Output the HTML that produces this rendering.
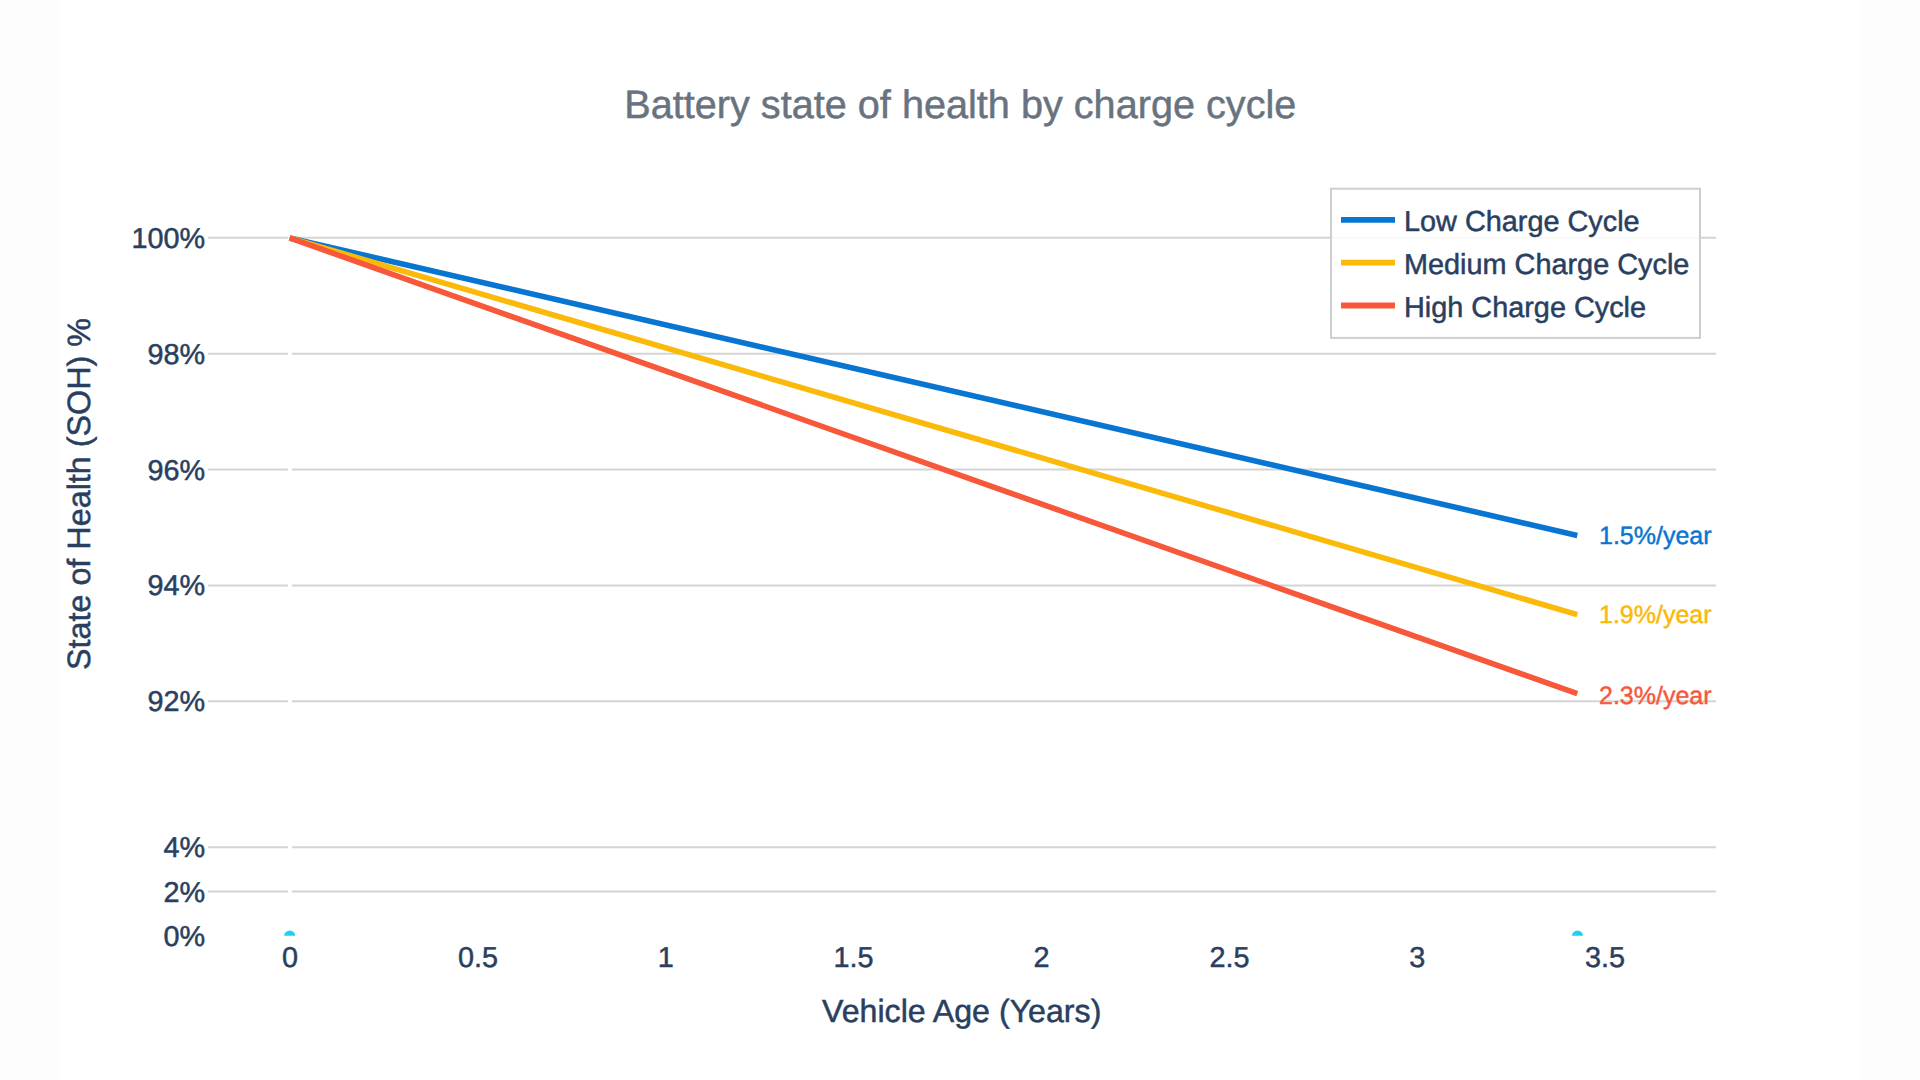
<!DOCTYPE html>
<html lang="en">
<head>
<meta charset="utf-8">
<title>Battery state of health by charge cycle</title>
<style>
html,body{margin:0;padding:0;width:1920px;height:1080px;overflow:hidden;background:#fdfdfd;}
#stage{position:absolute;left:60px;top:0;width:1800px;height:1080px;background:#ffffff;}
svg{position:absolute;left:0;top:0;width:1920px;height:1080px;display:block;}
text{font-family:"Liberation Sans",Arial,Helvetica,sans-serif;text-rendering:geometricPrecision;}
.tick{font-size:28.8px;fill:#2a3f5f;stroke:#2a3f5f;stroke-width:0.5px;}
.axt{font-size:32.15px;fill:#2a3f5f;stroke:#2a3f5f;stroke-width:0.5px;}
.leg{font-size:28.85px;fill:#2a3f5f;stroke:#2a3f5f;stroke-width:0.5px;}
.ann{font-size:25px;stroke-width:0.45px;}
.title{font-size:39.65px;fill:#68737f;stroke:#68737f;stroke-width:0.5px;}
.grid line{stroke:#d4d4d4;stroke-width:2;}
</style>
</head>
<body>
<div id="stage"></div>
<svg viewBox="0 0 1920 1080" width="1920" height="1080">
  <!-- gridlines -->
  <g class="grid">
    <line x1="208" x2="1716" y1="237.8" y2="237.8"/>
    <line x1="208" x2="1716" y1="353.7" y2="353.7"/>
    <line x1="208" x2="1716" y1="469.5" y2="469.5"/>
    <line x1="208" x2="1716" y1="585.4" y2="585.4"/>
    <line x1="208" x2="1716" y1="701.3" y2="701.3"/>
    <line x1="208" x2="1716" y1="847.2" y2="847.2"/>
    <line x1="208" x2="1716" y1="891.5" y2="891.5"/>
  </g>
  <!-- white zero line -->
  <line x1="289.9" x2="289.9" y1="180" y2="936" stroke="#ffffff" stroke-width="4"/>
  <!-- cyan markers clipped at plot bottom -->
  <clipPath id="cp"><rect x="200" y="900" width="1600" height="35.8"/></clipPath>
  <g clip-path="url(#cp)" fill="#19d3f3">
    <circle cx="289.7" cy="936.2" r="5.6"/>
    <circle cx="1577.5" cy="936.2" r="5.6"/>
  </g>
  <!-- data lines -->
  <g fill="none" stroke-width="5.6" stroke-linecap="butt">
    <line x1="289.6" y1="237.9" x2="1577.3" y2="535.4" stroke="#0876d0"/>
    <line x1="289.6" y1="237.9" x2="1577.3" y2="614.6" stroke="#fbb90a"/>
    <line x1="289.6" y1="237.9" x2="1577.3" y2="693.7" stroke="#f8583a"/>
  </g>
  <!-- y tick labels -->
  <g class="tick" text-anchor="end">
    <text x="205.2" y="248.2">100%</text>
    <text x="205.2" y="363.7">98%</text>
    <text x="205.2" y="479.5">96%</text>
    <text x="205.2" y="595.4">94%</text>
    <text x="205.2" y="711.4">92%</text>
    <text x="205.2" y="857.4">4%</text>
    <text x="205.2" y="901.6">2%</text>
    <text x="205.2" y="946.2">0%</text>
  </g>
  <!-- x tick labels -->
  <g class="tick" text-anchor="middle">
    <text x="290" y="967">0</text>
    <text x="477.9" y="967">0.5</text>
    <text x="665.8" y="967">1</text>
    <text x="853.6" y="967">1.5</text>
    <text x="1041.5" y="967">2</text>
    <text x="1229.4" y="967">2.5</text>
    <text x="1417.3" y="967">3</text>
    <text x="1605.1" y="967">3.5</text>
  </g>
  <!-- annotations -->
  <g class="ann">
    <text x="1599" y="543.8" fill="#0876d0" stroke="#0876d0">1.5%/year</text>
    <text x="1599" y="622.8" fill="#fbb90a" stroke="#fbb90a">1.9%/year</text>
    <text x="1599" y="703.8" fill="#f8583a" stroke="#f8583a">2.3%/year</text>
  </g>
  <!-- legend -->
  <rect x="1331" y="188.7" width="369" height="149.2" fill="#ffffff" fill-opacity="0.85" stroke="#cecece" stroke-width="2"/>
  <g stroke-width="5.8">
    <line x1="1341" x2="1395" y1="219.8" y2="219.8" stroke="#0876d0"/>
    <line x1="1341" x2="1395" y1="262.6" y2="262.6" stroke="#fbb90a"/>
    <line x1="1341" x2="1395" y1="305.5" y2="305.5" stroke="#f8583a"/>
  </g>
  <g class="leg">
    <text x="1404" y="230.6">Low Charge Cycle</text>
    <text x="1404" y="273.7">Medium Charge Cycle</text>
    <text x="1404" y="316.9">High Charge Cycle</text>
  </g>
  <!-- titles -->
  <text class="title" x="960.3" y="117.9" text-anchor="middle">Battery state of health by charge cycle</text>
  <text class="axt" x="961.7" y="1021.5" text-anchor="middle">Vehicle Age (Years)</text>
  <text class="axt" style="font-size:32.35px" transform="translate(89.6,494) rotate(-90)" text-anchor="middle">State of Health (SOH) %</text>
</svg>
</body>
</html>
